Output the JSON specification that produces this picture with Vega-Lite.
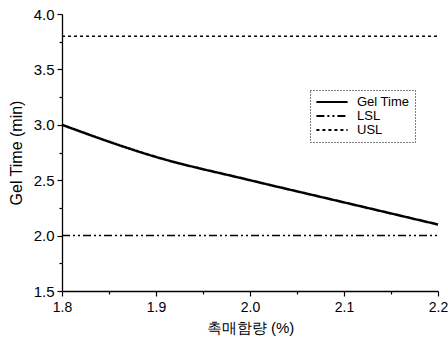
{
  "$schema": "https://vega.github.io/schema/vega-lite/v6.json",
  "width": 376,
  "height": 277,
  "autosize": {"type": "none"},
  "padding": {"left": 62, "top": 14, "right": 10, "bottom": 52},
  "background": "white",
  "config": {
    "view": {"stroke": null},
    "font": "Liberation Sans",
    "axis": {"domainColor": "black", "tickColor": "black", "labelColor": "black", "titleColor": "black", "grid": false, "titleFontWeight": "normal", "domainWidth": 1.3, "tickWidth": 1.2}
  },
  "data": {"values": [
    {"x": 1.8, "y": 3.0, "series": "Gel Time"},
    {"x": 1.9, "y": 2.71, "series": "Gel Time"},
    {"x": 2.0, "y": 2.5, "series": "Gel Time"},
    {"x": 2.1, "y": 2.3, "series": "Gel Time"},
    {"x": 2.2, "y": 2.1, "series": "Gel Time"},
    {"x": 1.8, "y": 2.0, "series": "LSL"},
    {"x": 2.2, "y": 2.0, "series": "LSL"},
    {"x": 1.8, "y": 3.8, "series": "USL"},
    {"x": 2.2, "y": 3.8, "series": "USL"}
  ]},
  "mark": {"type": "line", "clip": false, "interpolate": "monotone"},
  "encoding": {
    "x": {"field": "x", "type": "quantitative", "title": "촉매함량 (%)",
      "scale": {"domain": [1.8, 2.2], "nice": false, "zero": false},
      "axis": {"values": [1.8, 1.85, 1.9, 1.95, 2.0, 2.05, 2.1, 2.15, 2.2],
        "labelExpr": "round(datum.value*100) % 10 == 0 ? format(datum.value, '.1f') : ''",
        "tickSize": {"condition": {"test": "round(datum.value*100) % 10 == 0", "value": 5}, "value": 3},
        "labelFontSize": 14, "titleFontSize": 15,
        "labelPadding": 4, "titlePadding": 6, "labelFlush": false}},
    "y": {"field": "y", "type": "quantitative", "title": "Gel Time (min)",
      "scale": {"domain": [1.5, 4.0], "nice": false, "zero": false},
      "axis": {"values": [1.5, 1.75, 2.0, 2.25, 2.5, 2.75, 3.0, 3.25, 3.5, 3.75, 4.0],
        "labelExpr": "round(datum.value*100) % 50 == 0 ? format(datum.value, '.1f') : ''",
        "tickSize": {"condition": {"test": "round(datum.value*100) % 50 == 0", "value": 5}, "value": 3},
        "labelFontSize": 15, "titleFontSize": 16,
        "labelPadding": 3, "titlePadding": 9}},
    "detail": {"field": "series"},
    "strokeDash": {"field": "series", "type": "nominal",
      "scale": {"domain": ["Gel Time", "LSL", "USL"], "range": [[1, 0], [8, 3, 2, 3, 2, 3], [3, 3]]},
      "legend": {"title": null, "orient": "none", "legendX": 248, "legendY": 76,
        "strokeColor": "black", "padding": 5,
        "symbolType": "M-2.6,0H2.6", "symbolSize": 144, "symbolStrokeColor": "black", "symbolFillColor": "transparent", "symbolStrokeWidth": 2,
        "labelFontSize": 13, "labelColor": "black", "rowPadding": 0, "symbolOffset": 10, "labelOffset": 18,
        "encode": {"legend": {"update": {"strokeDash": {"value": [1, 2]}}}}}},
    "color": {"value": "black"},
    "strokeWidth": {"condition": {"test": "datum.series == 'Gel Time'", "value": 2.5}, "value": 1.5}
  }
}
